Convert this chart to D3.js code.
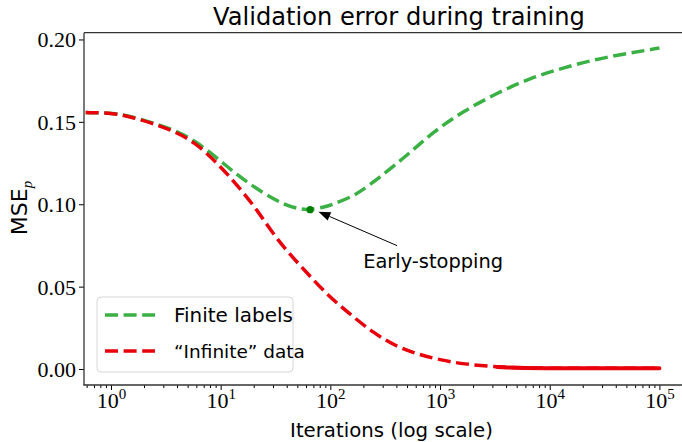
<!DOCTYPE html>
<html>
<head>
<meta charset="utf-8">
<script src="https://cdn.jsdelivr.net/npm/d3@7"></script>
<style>
  body { margin: 0; background: #fff; }
  svg { display: block; }
</style>
</head>
<body>
<div id="chart"></div>
<script>
// Data
const iterFinite = [0.588, 1.06, 1.62, 2.47, 3.76, 5.72, 9.27, 14.1, 23.4, 37.9, 54.2, 65.4, 87.8, 99.6,
                    155, 187, 284, 505, 870, 1630, 3320, 6620, 13200, 26900, 54600, 100000];
const mseFinite  = [0.1556, 0.1554, 0.1528, 0.1491, 0.1451, 0.1390, 0.1281, 0.1178, 0.1074, 0.0996, 0.0968, 0.0967, 0.0983, 0.0992,
                    0.1044, 0.1076, 0.1165, 0.1299, 0.1440, 0.1565, 0.1675, 0.1766, 0.1827, 0.1882, 0.1918, 0.1948];

const iterInfinite = [0.588, 1.06, 1.62, 2.47, 3.76, 5.72, 9.27, 14.1, 21.5, 32.7, 54.2, 93.5,
                      152, 246, 406, 620, 1000, 1630, 3320, 6620, 100000];
const mseInfinite  = [0.1556, 0.1554, 0.1525, 0.1488, 0.1443, 0.1380, 0.1252, 0.1117, 0.0967, 0.0783, 0.0621, 0.0450,
                      0.0332, 0.0219, 0.0134, 0.0091, 0.0055, 0.0030, 0.0012, 0.0004, 0.0004];

const earlyStop = { iter: 65.4, mse: 0.0967 };

const yTicks = [0, 0.05, 0.10, 0.15, 0.20];
const xTickExps = [0, 1, 2, 3, 4, 5];
const seriesNames = ['Finite labels', '\u201cInfinite\u201d data'];

// Dimensions
const W = 682, H = 442;
const plot = { left: 84, right: 700, top: 32.7, bottom: 385 };

const green = '#3bb044';
const red = '#e8000b';
const lw = 3.5;
const dash = '13,5.6';

const sans = "'DejaVu Sans', sans-serif";
const serif = "'Liberation Serif', 'DejaVu Serif', serif";

// Scales
const x = d3.scaleLog().domain([Math.pow(10, -0.246), Math.pow(10, 5.37)]).range([plot.left, plot.right]);
const y = d3.scaleLinear().domain([-0.0097, 0.2041]).range([plot.bottom, plot.top]);

const svg = d3.select('#chart').append('svg')
    .attr('width', W)
    .attr('height', H);

// scale a text's font size so it spans a given width
function fit(sel, w) {
    const s = parseFloat(sel.attr('font-size'));
    const l = sel.node().getComputedTextLength();
    sel.attr('font-size', s * w / l);
    return sel;
}

// Lines
const line = d3.line()
    .x(d => x(d[0]))
    .y(d => y(d[1]))
    .curve(d3.curveBasis);

const finite = d3.zip(iterFinite, mseFinite);
const infinite = d3.zip(iterInfinite, mseInfinite);

svg.append('path')
    .attr('d', line(finite))
    .attr('fill', 'none')
    .attr('stroke', green)
    .attr('stroke-width', lw)
    .attr('stroke-dasharray', dash);

svg.append('path')
    .attr('d', line(infinite))
    .attr('fill', 'none')
    .attr('stroke', red)
    .attr('stroke-width', lw)
    .attr('stroke-dasharray', dash);

// the flat tail of the noisy red run looks solid in the reference
svg.append('path')
    .attr('d', line(infinite.filter(d => d[0] >= 3320)))
    .attr('fill', 'none')
    .attr('stroke', red)
    .attr('stroke-width', 4)
    .attr('stroke-linecap', 'round');

// Early stopping marker and annotation
const ex = x(earlyStop.iter), ey = y(earlyStop.mse);
svg.append('circle')
    .attr('cx', ex).attr('cy', ey).attr('r', 3.6)
    .attr('fill', '#008000');

const tail = [ex + 87, ey + 36];
const tip = [ex + 8.3, ey + 2];
const ang = Math.atan2(tail[1] - tip[1], tail[0] - tip[0]);
const hl = 12, hw = 4.5;
const base = [tip[0] + hl * Math.cos(ang), tip[1] + hl * Math.sin(ang)];
svg.append('line')
    .attr('x1', tail[0]).attr('y1', tail[1])
    .attr('x2', base[0]).attr('y2', base[1])
    .attr('stroke', '#000').attr('stroke-width', 1);
svg.append('path')
    .attr('d', `M${tip[0]},${tip[1]}L${base[0] - hw * Math.sin(ang)},${base[1] + hw * Math.cos(ang)}L${base[0] + hw * Math.sin(ang)},${base[1] - hw * Math.cos(ang)}Z`)
    .attr('fill', '#000');

fit(svg.append('text')
    .attr('x', ex + 53).attr('y', ey + 58)
    .attr('font-family', sans).attr('font-size', 20)
    .text('Early-stopping'), 140);

// Axes
const yAxis = svg.append('g')
    .attr('transform', `translate(${plot.left},0)`)
    .call(d3.axisLeft(y).tickValues(yTicks).tickFormat(d3.format('.2f')).tickSize(5).tickPadding(3));
yAxis.select('.domain').remove();
yAxis.selectAll('text').attr('font-family', serif).attr('font-size', 22).attr('dy', '0.34em');

const minor = [];
for (let e = -1; e <= 5; e++) {
    for (let m = 2; m <= 9; m++) {
        const v = m * Math.pow(10, e);
        if (v >= x.domain()[0] && v <= x.domain()[1]) minor.push(v);
    }
}
const xMinor = svg.append('g')
    .attr('transform', `translate(0,${plot.bottom})`)
    .call(d3.axisBottom(x).tickValues(minor).tickFormat('').tickSize(3));
xMinor.select('.domain').remove();

const xAxis = svg.append('g')
    .attr('transform', `translate(0,${plot.bottom})`)
    .call(d3.axisBottom(x).tickValues(xTickExps.map(e => Math.pow(10, e))).tickFormat('').tickSize(5));
xAxis.select('.domain').remove();

xAxis.selectAll('.tick').each(function(d, i) {
    const t = d3.select(this).append('text')
        .attr('fill', '#000')
        .attr('y', 23)
        .attr('text-anchor', 'middle')
        .attr('font-family', serif)
        .attr('font-size', 22);
    t.append('tspan').text('10');
    t.append('tspan').attr('font-size', 15).attr('dy', -9).text(xTickExps[i]);
});

svg.selectAll('.tick line').attr('stroke', '#000').attr('stroke-width', 1);

// Spines (no right spine)
const spine = '#333';
svg.append('line').attr('x1', plot.left).attr('x2', plot.left).attr('y1', plot.top).attr('y2', plot.bottom)
    .attr('stroke', spine).attr('stroke-width', 1.3);
svg.append('line').attr('x1', plot.left).attr('x2', W).attr('y1', plot.top).attr('y2', plot.top)
    .attr('stroke', spine).attr('stroke-width', 1.3);
svg.append('line').attr('x1', plot.left - 0.65).attr('x2', W).attr('y1', plot.bottom).attr('y2', plot.bottom)
    .attr('stroke', spine).attr('stroke-width', 1.3);

// Title and labels
fit(svg.append('text')
    .attr('x', 399).attr('y', 25)
    .attr('text-anchor', 'middle')
    .attr('font-family', sans).attr('font-size', 24)
    .text('Validation error during training'), 372);

fit(svg.append('text')
    .attr('x', 391.5).attr('y', 437)
    .attr('text-anchor', 'middle')
    .attr('font-family', sans).attr('font-size', 20)
    .text('Iterations (log scale)'), 203);

const yl = svg.append('text')
    .attr('transform', 'translate(27,208) rotate(-90)')
    .attr('text-anchor', 'middle');
yl.append('tspan').attr('font-family', sans).attr('font-size', 22).text('MSE');
yl.append('tspan').attr('font-family', serif).attr('font-style', 'italic').attr('font-size', 15).attr('dy', 5).text('p');

// Legend
const lg = svg.append('g');
lg.append('rect')
    .attr('x', 97).attr('y', 297).attr('width', 196).attr('height', 75)
    .attr('rx', 4)
    .attr('fill', 'rgba(255,255,255,0.8)')
    .attr('stroke', '#d6d6d6').attr('stroke-width', 1);

const legendY = d3.scalePoint().domain(seriesNames).range([315, 351]);
const legendColor = d3.scaleOrdinal().domain(seriesNames).range([green, red]);

seriesNames.forEach(name => {
    lg.append('line')
        .attr('x1', 105).attr('x2', 155)
        .attr('y1', legendY(name)).attr('y2', legendY(name))
        .attr('stroke', legendColor(name))
        .attr('stroke-width', lw)
        .attr('stroke-dasharray', dash);
    lg.append('text')
        .attr('x', 174).attr('y', legendY(name) + 7)
        .attr('font-family', sans).attr('font-size', 20)
        .text(name);
});
fit(lg.selectAll('text').filter((d, i) => i === 0), 119);
fit(lg.selectAll('text').filter((d, i) => i === 1), 131);
</script>
</body>
</html>
